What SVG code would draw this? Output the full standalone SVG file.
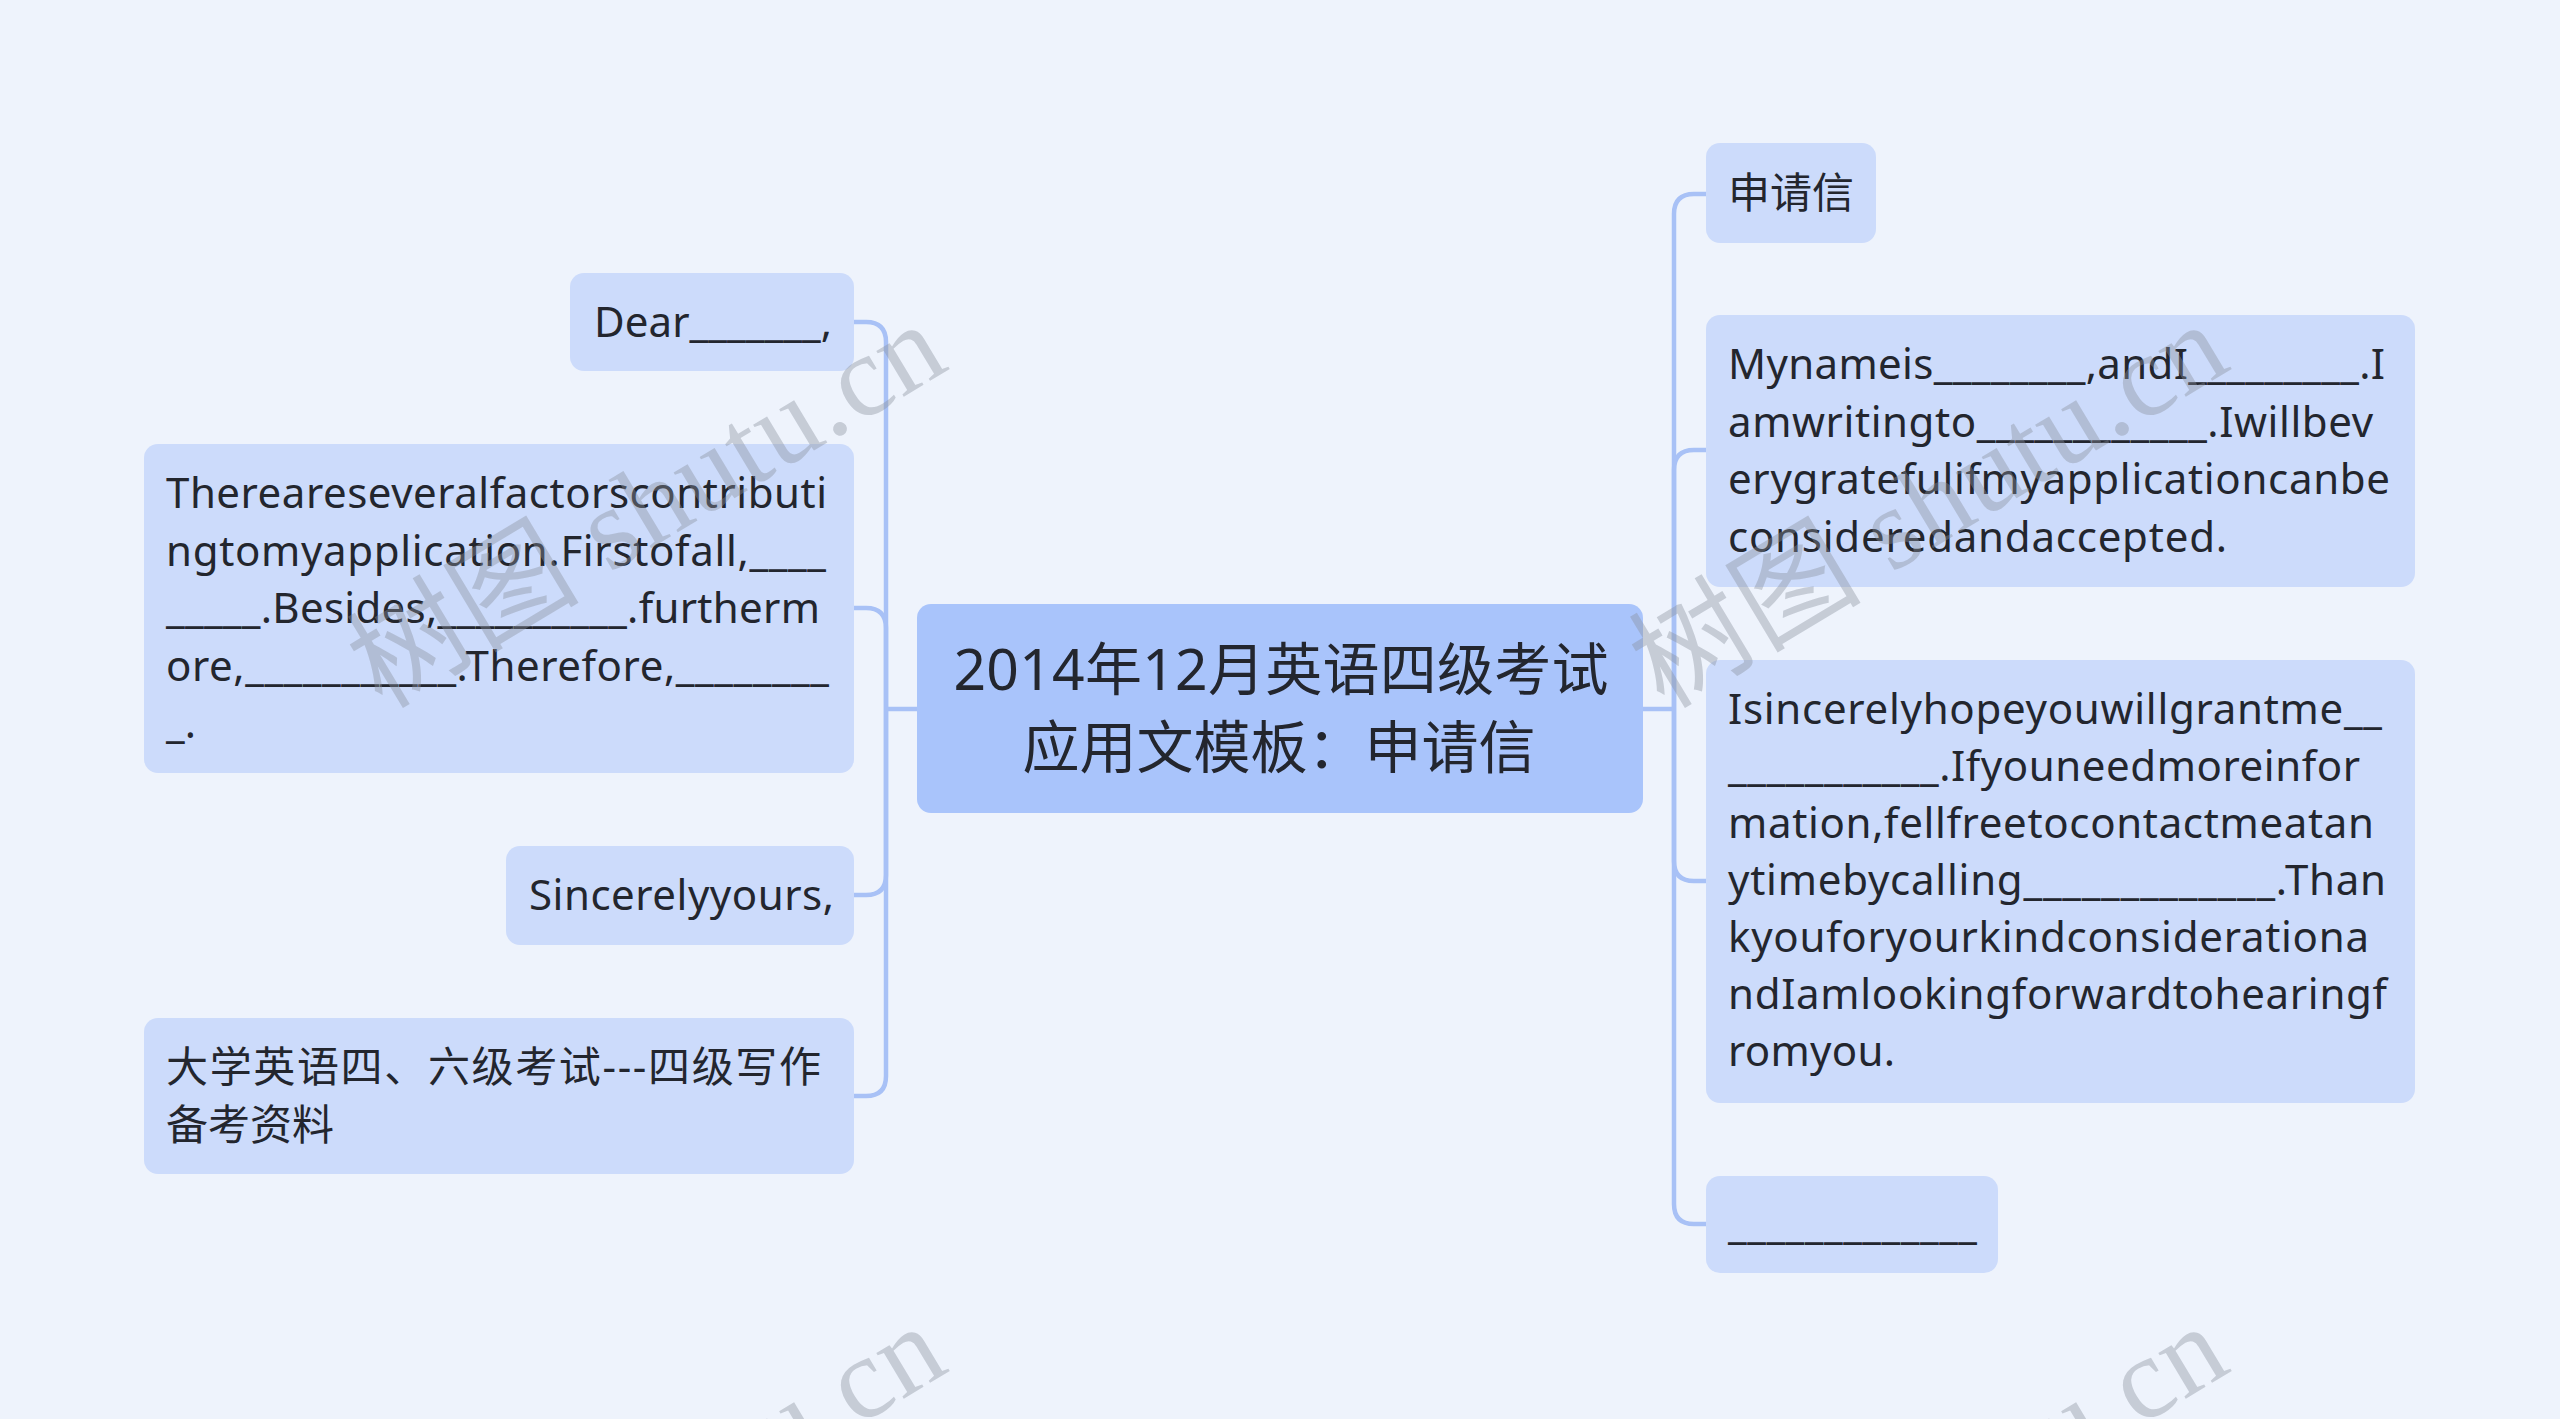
<svg xmlns="http://www.w3.org/2000/svg" width="2560" height="1419" viewBox="0 0 2560 1419">
<style>
.node rect{fill:#ccdbfb}
#root rect{fill:#a9c4fb}
text{font-family:"Noto Sans","Noto Sans CJK SC",sans-serif;fill:#23262e}
.t{font-size:42px}
.r{font-size:57px;text-anchor:middle}
.conn path{stroke:#a8c1f6;stroke-width:4.5;fill:none}
.wm{font-family:"Liberation Serif","Noto Sans CJK SC",serif;font-size:116px;fill:#8a929e;fill-opacity:0.4}
</style>
<rect x="0" y="0" width="2560" height="1419" fill="#eef3fc"/>
<g id="connectors" class="conn">
<path d="M917 709H886"/>
<path d="M886 709V342Q886 322 866 322H854"/>
<path d="M886 709V628Q886 608 866 608H854"/>
<path d="M886 709V875Q886 895 866 895H854"/>
<path d="M886 709V1076Q886 1096 866 1096H854"/>
<path d="M1643 709H1674"/>
<path d="M1674 709V214Q1674 194 1694 194H1706"/>
<path d="M1674 709V470Q1674 450 1694 450H1706"/>
<path d="M1674 709V861Q1674 881 1694 881H1706"/>
<path d="M1674 709V1204Q1674 1224 1694 1224H1706"/>
</g>
<g id="root">
<rect x="917" y="604" width="726" height="209" rx="14"/>
<text class="r" x="1281" y="690" textLength="655">2014年12月英语四级考试</text>
<text class="r" x="1279" y="768">应用文模板：申请信</text>
</g>
<g id="n-dear" class="node">
<rect x="570" y="273" width="284" height="98" rx="14"/>
<text class="t" x="594" y="337" textLength="238">Dear_______,</text>
</g>
<g id="n-factors" class="node">
<rect x="144" y="444" width="710" height="329" rx="14"/>
<text class="t" x="166" y="508" textLength="661">Thereareseveralfactorscontributi</text>
<text class="t" x="166" y="565.5" textLength="660">ngtomyapplication.Firstofall,____</text>
<text class="t" x="166" y="623" textLength="654">_____.Besides,__________.furtherm</text>
<text class="t" x="166" y="680.5" textLength="663">ore,___________.Therefore,________</text>
<text class="t" x="166" y="738">_.</text>
</g>
<g id="n-sincerely" class="node">
<rect x="506" y="846" width="348" height="99" rx="14"/>
<text class="t" x="529" y="910" textLength="305">Sincerelyyours,</text>
</g>
<g id="n-cet" class="node">
<rect x="144" y="1018" width="710" height="156" rx="14"/>
<text class="t" x="166" y="1082" textLength="655">大学英语四、六级考试---四级写作</text>
<text class="t" x="166" y="1140">备考资料</text>
</g>
<g id="n-title" class="node">
<rect x="1706" y="143" width="170" height="100" rx="14"/>
<text class="t" x="1728" y="208">申请信</text>
</g>
<g id="n-name" class="node">
<rect x="1706" y="315" width="709" height="272" rx="14"/>
<text class="t" x="1728" y="379" textLength="657">Mynameis________,andI_________.I</text>
<text class="t" x="1728" y="436.5" textLength="645">amwritingto____________.Iwillbev</text>
<text class="t" x="1728" y="494" textLength="662">erygratefulifmyapplicationcanbe</text>
<text class="t" x="1728" y="551.5" textLength="499">consideredandaccepted.</text>
</g>
<g id="n-hope" class="node">
<rect x="1706" y="660" width="709" height="443" rx="14"/>
<text class="t" x="1728" y="724" textLength="654">Isincerelyhopeyouwillgrantme__</text>
<text class="t" x="1728" y="781" textLength="632">___________.Ifyouneedmoreinfor</text>
<text class="t" x="1728" y="838" textLength="646">mation,fellfreetocontactmeatan</text>
<text class="t" x="1728" y="895" textLength="658">ytimebycalling_____________.Than</text>
<text class="t" x="1728" y="952" textLength="641">kyouforyourkindconsiderationa</text>
<text class="t" x="1728" y="1009" textLength="659">ndIamlookingforwardtohearingf</text>
<text class="t" x="1728" y="1066" textLength="167">romyou.</text>
</g>
<g id="n-blank" class="node">
<rect x="1706" y="1176" width="292" height="97" rx="14"/>
<text class="t" x="1728" y="1239" textLength="249">_____________</text>
</g>
<g id="watermarks">
<text class="wm" transform="translate(382 710) rotate(-31)" textLength="664">树图 shutu.cn</text>
<text class="wm" transform="translate(1664 710) rotate(-31)" textLength="664">树图 shutu.cn</text>
<text class="wm" transform="translate(382 1712) rotate(-31)" textLength="664">树图 shutu.cn</text>
<text class="wm" transform="translate(1664 1712) rotate(-31)" textLength="664">树图 shutu.cn</text>
</g>
</svg>
